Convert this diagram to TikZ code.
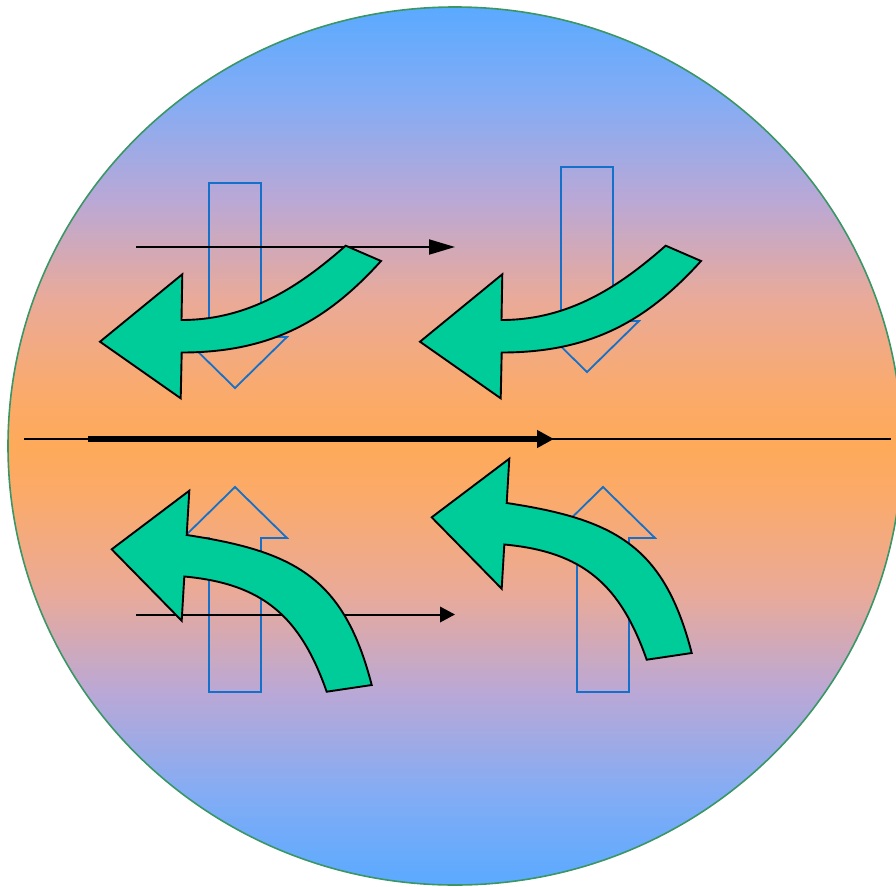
\documentclass[tikz,border=0pt]{standalone}
\usetikzlibrary{arrows.meta}
\definecolor{skyb}{RGB}{90,170,255}
\definecolor{skyc}{RGB}{132,172,244}
\definecolor{lav}{RGB}{186,168,214}
\definecolor{pinkc}{RGB}{234,170,152}
\definecolor{peach}{RGB}{251,170,104}
\definecolor{orng}{RGB}{254,170,90}
\definecolor{rimgreen}{RGB}{58,150,100}
\definecolor{outblue}{RGB}{20,112,200}
\definecolor{turq}{RGB}{0,204,153}
\pgfdeclareverticalshading{discshade}{100bp}{color(0bp)=(skyb); color(25bp)=(skyb); color(30.3bp)=(skyc); color(36bp)=(lav); color(41.7bp)=(pinkc); color(47.4bp)=(peach); color(50bp)=(orng); color(52.6bp)=(peach); color(58.3bp)=(pinkc); color(64bp)=(lav); color(69.7bp)=(skyc); color(75bp)=(skyb); color(100bp)=(skyb)}
\tikzset{
  hollowarrow/.style={draw=outblue, line width=1.8pt, line join=miter},
  bentarrow/.style={draw=black, fill=turq, line width=1.9pt, line join=miter},
  thinline/.style={draw=black, line width=2pt},
  thickline/.style={draw=black, line width=5.5pt},
  downbend/.pic={
    \path[bentarrow] (345.7,245.7) -- (381,261)
      .. controls (327.4,320.2) and (271.7,352.5) .. (181.7,352.5)
      -- (180.7,398.3) -- (100,341.7) -- (182.3,274.3) -- (181.5,320)
      .. controls (250,320) and (300.7,285.3) .. cycle;
  },
  upbend/.pic={
    \path[bentarrow] (371.7,685)
      .. controls (344.2,578.3) and (295.6,551.5) .. (186.7,535)
      -- (189.3,490.7) -- (111.7,549.3) -- (181.7,620.7) -- (184.3,576.5)
      .. controls (263,583.7) and (300.3,616.5) .. (326.7,691.7) -- cycle;
  }
}
\begin{document}
\begin{tikzpicture}[x=1pt,y=-1pt]
\useasboundingbox (0,0) rectangle (896,886);
% disc
\shade[shading=discshade, draw=rimgreen, line width=1.6pt] (455,446) ellipse [x radius=447pt, y radius=439pt];
% hollow blue arrows
\draw[hollowarrow] (209,183) -- (261,183) -- (261,337) -- (287,337) -- (235,388) -- (183,337) -- (209,337) -- cycle;
\draw[hollowarrow] (561,167) -- (613,167) -- (613,321) -- (639,321) -- (587,372) -- (535,321) -- (561,321) -- cycle;
\draw[hollowarrow] (209,692) -- (261,692) -- (261,538) -- (287,538) -- (235,487) -- (183,538) -- (209,538) -- cycle;
\draw[hollowarrow] (577,692) -- (629,692) -- (629,538) -- (655,538) -- (603,487) -- (551,538) -- (577,538) -- cycle;
% straight black arrows
\coordinate (ua) at (136,247);
\coordinate (ub) at (455,247);
\coordinate (la) at (136,614.5);
\coordinate (lb) at (455,614.5);
\coordinate (axa) at (24,439);
\coordinate (axb) at (891,439);
\coordinate (ma) at (88,439);
\coordinate (mb) at (554,439);
\draw[thinline, -{Triangle[length=26pt,width=15pt]}] (ua) -- (ub);
\draw[thinline, -{Triangle[length=15pt,width=15.5pt]}] (la) -- (lb);
\draw[thinline] (axa) -- (axb);
\draw[thickline, -{Triangle[length=17pt,width=17pt]}] (ma) -- (mb);
% green bent arrows
\pic at (0,0) {downbend};
\pic at (320,0) {downbend};
\pic at (0,0) {upbend};
\pic at (320,-32) {upbend};
\end{tikzpicture}
\end{document}
